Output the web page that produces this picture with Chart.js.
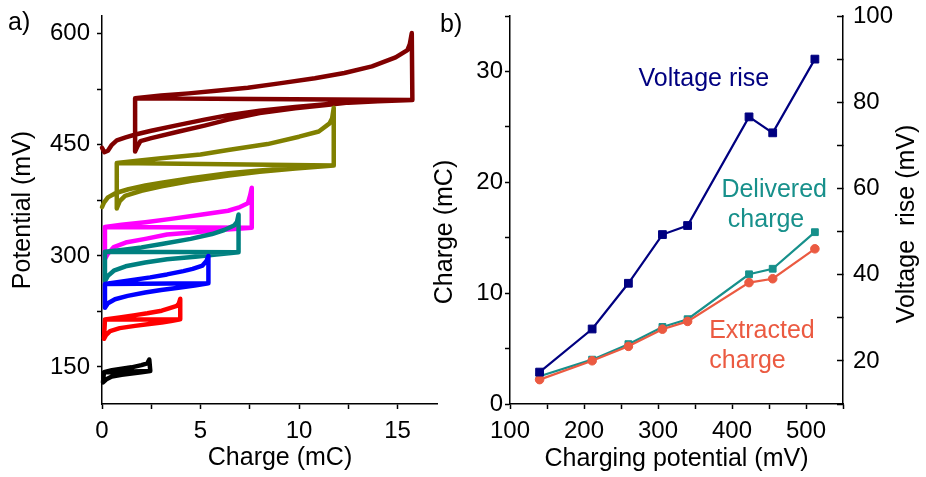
<!DOCTYPE html>
<html><head><meta charset="utf-8">
<script src="https://cdn.jsdelivr.net/npm/chart.js@4.4.0/dist/chart.umd.min.js"></script>
<style>
html,body{margin:0;padding:0;background:#fff;}
body{width:926px;height:477px;position:relative;overflow:hidden;}
canvas{position:absolute;top:0;}
#ca{left:0;} #cb{left:430px;}
</style></head><body>
<canvas id="ca" width="470" height="477"></canvas>
<canvas id="cb" width="496" height="477"></canvas>
<script>
// ---------- Panel a: potential (mV) vs charge (mC) cycles, [charge, potential] ----------
const loop140 = [[0.1,143],[0.05,129],[0.2,133],[0.5,137],[1.0,139.5],[1.6,141.5],[2.0,143],[2.45,144.5],
  [2.4,160],[2.3,155],[2.0,152.5],[1.5,149.5],[1.0,147.5],[0.5,145.5],[0.1,143],[2.45,144.5]];
const loop211 = [[0.15,214],[0.1,188],[0.2,193],[0.41,198.5],[0.9,202.5],[1.68,205.5],[2.4,208],[3.03,210],[3.5,212],[3.97,214.5],
  [3.97,242],[3.9,236],[3.8,232.5],[3.4,229],[3.03,226],[2.3,222.5],[1.68,220],[0.9,217],[0.15,214],[3.97,214.5]];
const loop260 = [[0.15,262],[0.15,230],[0.3,236],[0.66,241.5],[1.3,246],[2.19,250.5],[3.0,254],[3.88,257],[4.7,260],[5.4,263],
  [5.4,300],[5.3,293],[5.1,287],[4.6,282.5],[4.13,279.5],[3.3,275],[2.44,271],[1.3,266.5],[0.15,262],[5.4,263]];
const loop306 = [[0.15,305.5],[0.15,266],[0.3,273],[0.6,280],[1.2,286],[2.19,291],[3.3,295.5],[4.73,299],[5.8,302],[6.93,305],
  [6.93,356],[6.85,346],[6.7,341],[6.2,335],[5.58,329.5],[4.5,323],[3.03,316],[2.0,311.5],[1.0,308],[0.15,305.5],[6.93,305]];
const loop340 = [[0.15,339],[0.15,296],[0.3,303],[0.6,312],[1.2,318],[2.2,323],[3.3,329],[4.7,332],[6.0,335],[7.6,338],
  [7.6,392],[7.52,382],[7.4,371],[7.0,366],[6.4,361],[5.0,355.5],[3.5,350],[2.2,345.5],[1.0,342],[0.15,339],[7.6,338]];
const loop423 = [[0,366],[0.1,372],[0.3,379],[0.7,385],[1.34,390],[2.2,395],[3.03,399],[4.5,405],[6.42,411.5],[8.0,415.5],[9.81,419],[11.76,422],
  [11.76,500],[11.68,486],[11.55,479],[11.0,468],[10.0,461],[8.4,451],[6.4,443],[5.0,437],[3.0,432],[1.8,428.5],[0.75,425.5],
  [0.75,364],[0.9,374],[1.17,381],[2.0,388],[3.03,394],[4.5,401],[6.42,408.5],[8.0,413.5],[9.81,418],[11.76,422],[0.75,425.5]];
const loop512 = [[0,446],[0.12,440],[0.3,442],[0.5,450],[0.75,456],[1.2,460],[1.7,464],[2.5,469],[3.9,477],[5.2,484],[6.4,490],[8.0,496],[9.8,501],[11.5,505],[12.5,507.5],[14,509],[15.75,510.5],
  [15.72,601],[15.62,586],[15.5,578],[14.9,568],[13.7,556],[12.3,547],[10.8,540],[9.0,533],[7.4,527],[5.8,523],[4.4,519.5],[3.0,516.5],[1.68,513],
  [1.68,441],[1.8,448],[1.95,455],[2.5,459],[3.9,468],[5.2,476],[6.4,484],[8.0,493],[9.8,499.5],[11.5,504],[12.5,507],[14,509],[15.75,510.5],[1.68,513]];
const loopSeries = [loop140, loop211, loop260, loop306, loop340, loop423, loop512];
const loopColors = ['#000000','#FF0000','#0000FF','#008080','#FF00FF','#808000','#800000'];

// tick positions (labels shown only on major ones)
const chargeTicksA    = [0, 2.5, 5, 7.5, 10, 12.5, 15];
const potentialTicksA = [150, 225, 300, 375, 450, 525, 600];

// ---------- Panel b ----------
const chargingPotential = [140, 211, 260, 306, 340, 423, 455, 512];
const voltageRise      = [17.4, 27.4, 38.0, 49.3, 51.4, 76.6, 72.9, 90.0];
const deliveredCharge  = [2.5, 4.0, 5.4, 6.95, 7.65, 11.7, 12.2, 15.5];
const extractedCharge  = [2.2, 3.9, 5.2, 6.75, 7.45, 10.95, 11.3, 14.0];

const potentialTicksB = [100, 150, 200, 250, 300, 350, 400, 450, 500, 550];
const chargeTicksB    = [0, 5, 10, 15, 20, 25, 30, 35];
const riseTicksB      = [10, 20, 30, 40, 50, 60, 70, 80, 90, 100];

const FONT = "'Liberation Sans', Arial, Helvetica, sans-serif";
const NAVY = '#000080', TEAL = '#17908B', ORANGE = '#EB5A41';

function txt(ctx, s, x, y, o = {}) {
  ctx.save();
  ctx.font = (o.size || 25) + 'px ' + FONT;
  ctx.fillStyle = o.color || '#000';
  ctx.textAlign = o.align || 'center';
  ctx.textBaseline = o.baseline || 'alphabetic';
  ctx.translate(x, y);
  if (o.rot) ctx.rotate(o.rot);
  ctx.fillText(s, 0, 0);
  ctx.restore();
}

function fitBox(size, horizontal) {
  return s => {
    if (horizontal) s.height = size; else s.width = size;
    s.paddingTop = 0; s.paddingBottom = 0; s.paddingLeft = 0; s.paddingRight = 0;
  };
}
function axisCommon(tickValues, extra) {
  return Object.assign({
    type: 'linear',
    grid: { drawOnChartArea: false, drawTicks: true, tickLength: 5, tickColor: '#000', tickWidth: 1.5 },
    border: { display: true, color: '#000', width: 1.5 },
    afterBuildTicks: s => { s.ticks = tickValues.map(v => ({ value: v })); }
  }, extra);
}
function tickOpts(labelEvery, pad) {
  return { autoSkip: false, maxRotation: 0, padding: pad,
    color: '#000', font: { family: FONT, size: 24 },
    callback: v => (Math.abs(v / labelEvery - Math.round(v / labelEvery)) < 1e-6 ? String(v) : '') };
}

// ---------- Chart a ----------
new Chart(document.getElementById('ca'), {
  type: 'scatter',
  data: {
    datasets: loopSeries.map((pts, i) => ({
      data: pts.map(p => ({ x: p[0], y: p[1] })),
      showLine: true, borderColor: loopColors[i], backgroundColor: loopColors[i],
      borderWidth: 4.5, pointRadius: 0, tension: 0, borderJoinStyle: 'round', borderCapStyle: 'round', clip: false
    }))
  },
  options: {
    responsive: false, animation: false, events: [],
    layout: { padding: { left: 0, top: 16, right: 33, bottom: 0 } },
    plugins: { legend: { display: false }, tooltip: { enabled: false } },
    scales: {
      x: axisCommon(chargeTicksA, { min: 0, max: 17, ticks: tickOpts(5, 8), afterFit: fitBox(73, true) }),
      y: axisCommon(potentialTicksA, { min: 100, max: 624, ticks: tickOpts(150, 7), afterFit: fitBox(102, false),
        title: { display: true, text: 'Potential (mV)', color: '#000', font: { family: FONT, size: 25, lineHeight: 1 }, padding: { top: 11, bottom: 0 } } })
    }
  },
  plugins: [{
    id: 'labelsA',
    afterDraw(chart) {
      const ctx = chart.ctx;
      txt(ctx, 'a)', 8, 30, { align: 'left' });
      txt(ctx, 'Charge (mC)', 280, 465);
    }
  }]
});

// ---------- Chart b ----------
const annotations = [
  { text: 'Voltage rise', x: 362, y: 28.7, color: NAVY },
  { text: 'Delivered', x: 457, y: 18.7, color: TEAL },
  { text: 'charge', x: 446, y: 16.0, color: TEAL },
  { text: 'Extracted', x: 440.5, y: 5.93, color: ORANGE },
  { text: 'charge', x: 421, y: 3.22, color: ORANGE }
];

new Chart(document.getElementById('cb'), {
  type: 'scatter',
  data: {
    datasets: [
      { label: 'Voltage rise', yAxisID: 'y2', data: chargingPotential.map((x, i) => ({ x, y: voltageRise[i] })),
        showLine: true, borderColor: NAVY, backgroundColor: NAVY, borderWidth: 2.2,
        pointStyle: 'rect', pointRadius: 5.5, pointBorderWidth: 1, pointBorderColor: NAVY, clip: false },
      { label: 'Extracted charge', yAxisID: 'y', data: chargingPotential.map((x, i) => ({ x, y: extractedCharge[i] })),
        showLine: true, borderColor: ORANGE, backgroundColor: ORANGE, borderWidth: 2.2,
        pointStyle: 'circle', pointRadius: 4.3, pointBorderWidth: 1, pointBorderColor: ORANGE, clip: false },
      { label: 'Delivered charge', yAxisID: 'y', data: chargingPotential.map((x, i) => ({ x, y: deliveredCharge[i] })),
        showLine: true, borderColor: TEAL, backgroundColor: TEAL, borderWidth: 2.2,
        pointStyle: 'rect', pointRadius: 4.8, pointBorderWidth: 1, pointBorderColor: TEAL, clip: false }
    ]
  },
  options: {
    responsive: false, animation: false, events: [],
    layout: { padding: { left: 0, top: 16, right: 0, bottom: 0 } },
    plugins: { legend: { display: false }, tooltip: { enabled: false } },
    scales: {
      x: axisCommon(potentialTicksB, { min: 100, max: 550, ticks: tickOpts(100, 8), afterFit: fitBox(73, true),
        title: { display: true, text: 'Charging potential (mV)', color: '#000', font: { family: FONT, size: 25, lineHeight: 1 }, padding: { top: 0, bottom: 5 } } }),
      y: axisCommon(chargeTicksB, { position: 'left', min: 0, max: 35, ticks: tickOpts(10, 2), afterFit: fitBox(80, false) }),
      y2: axisCommon(riseTicksB, { position: 'right', min: 10, max: 100, ticks: tickOpts(20, 16), afterFit: fitBox(83, false),
        grid: { drawOnChartArea: false, drawTicks: true, tickLength: -6, tickColor: '#000', tickWidth: 1.5 } })
    }
  },
  plugins: [{
    id: 'labelsB',
    afterDraw(chart) {
      const ctx = chart.ctx, sx = chart.scales.x, sy = chart.scales.y;
      annotations.forEach(a => txt(ctx, a.text, sx.getPixelForValue(a.x), sy.getPixelForValue(a.y), { color: a.color }));
      txt(ctx, 'b)', 10, 32, { align: 'left' });
      txt(ctx, 'Charge (mC)', 15, 232, { rot: -Math.PI / 2, baseline: 'middle' });
      txt(ctx, 'Voltage  rise (mV)', 477, 224, { rot: -Math.PI / 2, baseline: 'middle' });
    }
  }]
});
</script>
</body></html>
